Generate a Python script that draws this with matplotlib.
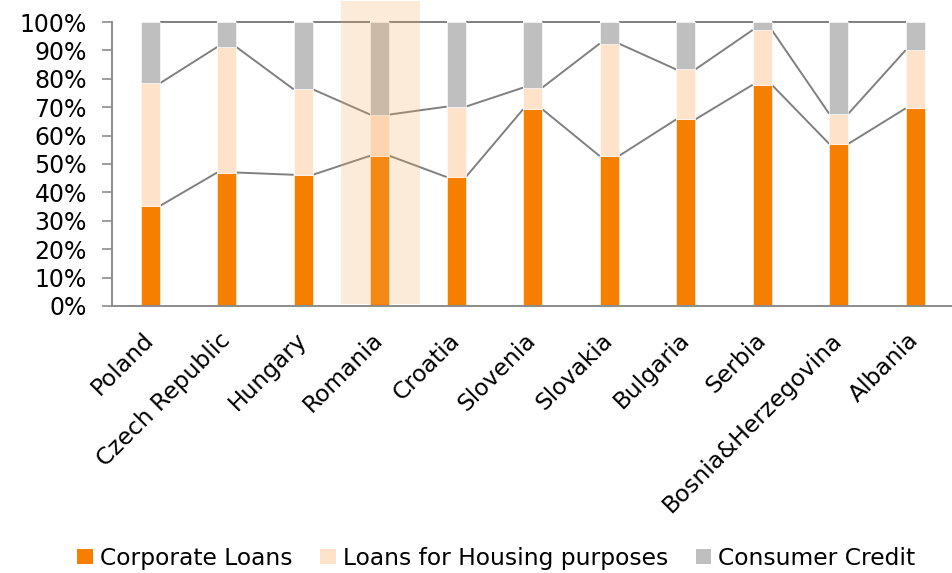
import numpy as np
import matplotlib

matplotlib.use('agg')
import matplotlib.pyplot as plt
from matplotlib.patches import Patch, Rectangle
from matplotlib.ticker import PercentFormatter

countries = ['Poland', 'Czech Republic', 'Hungary', 'Romania', 'Croatia', 'Slovenia',
             'Slovakia', 'Bulgaria', 'Serbia', 'Bosnia&Herzegovina', 'Albania']
corporate = [35.2, 47.0, 46.2, 52.9, 45.4, 69.3, 52.8, 65.7, 77.9, 57.1, 69.6]
housing = [43.2, 44.2, 30.1, 14.5, 24.8, 7.6, 39.6, 17.6, 19.3, 10.6, 20.5]
consumer = [21.6, 8.8, 23.7, 32.6, 29.8, 23.1, 7.6, 16.7, 2.8, 32.3, 9.9]
series_names = ['Corporate Loans', 'Loans for Housing purposes', 'Consumer Credit']
highlight = 'Romania'

colors = ['#F77F00', '#FEE3CA', '#BFBFBF']
line_col = '#808080'
bw = 0.25

plt.rcParams['font.family'] = ['DejaVu Sans']

fig = plt.figure(figsize=(9.53, 5.73), dpi=100)
ax = fig.add_axes([0.1175, 0.466, 0.883, 0.4956])

x = np.arange(len(countries))
data = np.array([corporate, housing, consumer])
bottoms = np.zeros(len(countries))
for vals, c in zip(data, colors):
    ax.bar(x, vals, bw, bottom=bottoms, color=c, edgecolor='white', linewidth=0.4, zorder=2)
    bottoms = bottoms + vals

# series lines between the bars
levels = np.cumsum(data, axis=0)
for lev in levels:
    for i in range(len(countries) - 1):
        ax.plot([x[i] + bw / 2, x[i + 1] - bw / 2], [lev[i], lev[i + 1]],
                color=line_col, lw=1.4, zorder=1, solid_capstyle='butt', clip_on=False)

# highlight box
hi = countries.index(highlight)
ax.add_patch(Rectangle((hi - 0.5, 0.6), 1.02, 106.8, facecolor=(246 / 255, 170 / 255, 93 / 255),
                       alpha=0.235, edgecolor='none', clip_on=False, zorder=4))

ax.set_xlim(-0.5, len(countries) - 0.5)
ax.set_ylim(0, 100)
ax.set_yticks(np.arange(0, 101, 10))
ax.yaxis.set_major_formatter(PercentFormatter(decimals=0))
ax.set_xticks(x)
ax.set_xticklabels(countries, rotation=45, ha='right', va='center', rotation_mode='anchor')

for s in ['top', 'right']:
    ax.spines[s].set_visible(False)
for s in ['left', 'bottom']:
    ax.spines[s].set_color('#8C8C8C')
    ax.spines[s].set_linewidth(1.4)
ax.tick_params(axis='y', direction='out', length=7, width=1.2, color='#8C8C8C',
               labelsize=17, pad=11)
ax.tick_params(axis='x', length=0, labelsize=16.8, pad=22)

handles = [Patch(facecolor=c, edgecolor='none') for c in colors]
fig.legend(handles, series_names, loc='center', bbox_to_anchor=(0.521, 0.026), ncol=3,
           frameon=False, fontsize=16.8, handlelength=0.66, handleheight=0.66,
           handletextpad=0.3, columnspacing=1.2)

fig.savefig('out.png', dpi=100)
